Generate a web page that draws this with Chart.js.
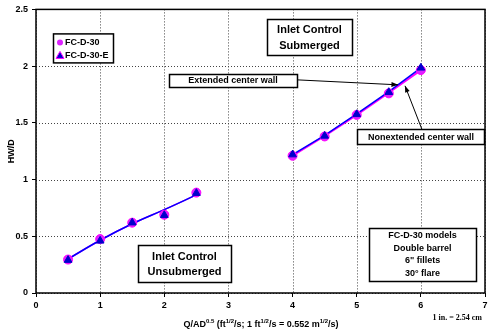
<!DOCTYPE html>
<html>
<head>
<meta charset="utf-8">
<script src="https://cdn.jsdelivr.net/npm/chart.js@4.4.1/dist/chart.umd.min.js"></script>
<style>
  html, body { margin: 0; padding: 0; background: #fff; }
  canvas { display: block; }
</style>
</head>
<body>
<canvas id="myChart" width="495" height="333"></canvas>
<script>
'use strict';

// Q/AD^0.5 values
var lowX = [0.5, 1, 1.5, 2, 2.5];
var highX = [4, 4.5, 5, 5.5, 6];

// HW/D measured
var d30Low = [0.295, 0.475, 0.62, 0.69, 0.885];
var d30High = [1.21, 1.38, 1.57, 1.76, 1.965];
var d30eLow = [0.29, 0.46, 0.62, 0.685, 0.88];
var d30eHigh = [1.22, 1.385, 1.575, 1.77, 1.985];

// fitted curves
var fitLow = [0.30, 0.465, 0.61, 0.735, 0.865];
var fitHighD30 = [1.21, 1.385, 1.57, 1.765, 1.965];
var fitHighE = [1.22, 1.39, 1.58, 1.775, 1.985];

var xTicks = [0, 1, 2, 3, 4, 5, 6, 7];
var yTicks = [0, 0.5, 1, 1.5, 2, 2.5];

var seriesNames = ['FC-D-30', 'FC-D-30-E'];

var MAGENTA = '#ff00ff';
var VIOLET = '#dd22ff';
var BLUE = '#0000ff';
var FONT = 'Arial, "Liberation Sans", sans-serif';

function pts(xs, ys){
    var out = [];
    for (var i = 0; i < xs.length; i++){
        out.push({x: xs[i], y: ys[i]});
    }
    return out;
}

// text boxes: center in data units, size in px
var notes = [
    {x: 4.264, y: 2.255, w: 85, h: 36, lines: ['Inlet Control', 'Submerged'], size: 11, gap: 16},
    {x: 3.071, y: 1.874, w: 128, h: 13, lines: ['Extended center wall'], size: 9, gap: 0},
    {x: 6.002, y: 1.376, w: 127, h: 15, lines: ['Nonextended center wall'], size: 9, gap: 0},
    {x: 2.315, y: 0.256, w: 93, h: 37, lines: ['Inlet Control', 'Unsubmerged'], size: 11, gap: 15},
    {x: 6.026, y: 0.343, w: 107, h: 53, lines: ['FC-D-30 models', 'Double barrel', '6" fillets', '30\u00b0 flare'], size: 9, gap: 12.5}
];

var arrows = [
    {x1: 4.069, y1: 1.879, x2: 5.644, y2: 1.835},
    {x1: 6.018, y1: 1.441, x2: 5.753, y2: 1.826}
];

var framePlugin = {
    id: 'frame',
    beforeDatasetsDraw: function(chart){
        // dotted grid
        var ctx = chart.ctx;
        var a = chart.chartArea;
        var xs = chart.scales.x;
        var ys = chart.scales.y;
        ctx.save();
        ctx.strokeStyle = '#444';
        ctx.lineWidth = 1;
        ctx.setLineDash([1, 2]);
        xTicks.forEach(function(v){
            var px = Math.round(xs.getPixelForValue(v)) + 0.5;
            ctx.beginPath();
            ctx.moveTo(px, a.top);
            ctx.lineTo(px, a.bottom);
            ctx.stroke();
        });
        yTicks.forEach(function(v){
            var py = Math.round(ys.getPixelForValue(v)) + 0.5;
            ctx.beginPath();
            ctx.moveTo(a.left, py);
            ctx.lineTo(a.right, py);
            ctx.stroke();
        });
        ctx.restore();
    },
    afterDatasetsDraw: function(chart){
        var ctx = chart.ctx;
        var a = chart.chartArea;
        var xs = chart.scales.x;
        var ys = chart.scales.y;
        ctx.save();

        // plot frame
        ctx.strokeStyle = '#000';
        ctx.lineWidth = 1.5;
        ctx.strokeRect(a.left, a.top, a.right - a.left, a.bottom - a.top);

        // arrows
        ctx.lineWidth = 1;
        arrows.forEach(function(ar){
            var x1 = xs.getPixelForValue(ar.x1), y1 = ys.getPixelForValue(ar.y1);
            var x2 = xs.getPixelForValue(ar.x2), y2 = ys.getPixelForValue(ar.y2);
            var ang = Math.atan2(y2 - y1, x2 - x1);
            ctx.beginPath();
            ctx.moveTo(x1, y1);
            ctx.lineTo(x2, y2);
            ctx.stroke();
            ctx.beginPath();
            ctx.moveTo(x2, y2);
            ctx.lineTo(x2 - 7 * Math.cos(ang - 0.35), y2 - 7 * Math.sin(ang - 0.35));
            ctx.lineTo(x2 - 7 * Math.cos(ang + 0.35), y2 - 7 * Math.sin(ang + 0.35));
            ctx.closePath();
            ctx.fillStyle = '#000';
            ctx.fill();
        });

        // note boxes
        notes.forEach(function(n){
            var cx = xs.getPixelForValue(n.x);
            var cy = ys.getPixelForValue(n.y);
            var l = Math.round(cx - n.w / 2) + 0.5;
            var t = Math.round(cy - n.h / 2) + 0.5;
            ctx.fillStyle = '#fff';
            ctx.fillRect(l, t, n.w, n.h);
            ctx.strokeStyle = '#000';
            ctx.lineWidth = 1.5;
            ctx.strokeRect(l, t, n.w, n.h);
            ctx.fillStyle = '#000';
            ctx.font = 'bold ' + n.size + 'px ' + FONT;
            ctx.textAlign = 'center';
            ctx.textBaseline = 'middle';
            var y0 = cy - (n.lines.length - 1) * n.gap / 2;
            n.lines.forEach(function(s, i){
                ctx.fillText(s, cx, y0 + i * n.gap + 0.5);
            });
        });

        // legend box
        var lx = a.left + 17, ly = a.top + 24;
        ctx.fillStyle = '#fff';
        ctx.fillRect(lx + 0.5, ly + 0.5, 60, 29);
        ctx.lineWidth = 1.5;
        ctx.strokeRect(lx + 0.5, ly + 0.5, 60, 29);
        ctx.beginPath();
        ctx.arc(lx + 7, ly + 9, 3, 0, Math.PI * 2);
        ctx.fillStyle = VIOLET;
        ctx.fill();
        ctx.beginPath();
        ctx.moveTo(lx + 7, ly + 18);
        ctx.lineTo(lx + 11, ly + 25);
        ctx.lineTo(lx + 3, ly + 25);
        ctx.closePath();
        ctx.fillStyle = '#0000cc';
        ctx.fill();
        ctx.strokeStyle = MAGENTA;
        ctx.lineWidth = 1;
        ctx.stroke();
        ctx.fillStyle = '#000';
        ctx.font = 'bold 9px ' + FONT;
        ctx.textAlign = 'left';
        ctx.textBaseline = 'middle';
        ctx.fillText(seriesNames[0], lx + 12, ly + 9.5);
        ctx.fillText(seriesNames[1], lx + 12, ly + 22.5);

        ctx.restore();
    },
    afterDraw: function(chart){
        var ctx = chart.ctx;
        var a = chart.chartArea;
        ctx.save();
        ctx.fillStyle = '#000';

        // y title
        ctx.font = 'bold 9px ' + FONT;
        ctx.translate(12, (a.top + a.bottom) / 2);
        ctx.rotate(-Math.PI / 2);
        ctx.textAlign = 'center';
        ctx.textBaseline = 'middle';
        ctx.fillText('HW/D', 0, 0);
        ctx.setTransform(1, 0, 0, 1, 0, 0);

        // x title with superscripts
        var parts = [
            ['Q/AD', 0], ['0.5', 1], [' (ft', 0], ['1/2', 1], ['/s; 1 ft', 0],
            ['1/2', 1], ['/s = 0.552 m', 0], ['1/2', 1], ['/s)', 0]
        ];
        var total = 0;
        parts.forEach(function(p){
            ctx.font = (p[1] ? 'bold 6px ' : 'bold 9px ') + FONT;
            total += ctx.measureText(p[0]).width;
        });
        var x = 261 - total / 2;
        ctx.textAlign = 'left';
        ctx.textBaseline = 'alphabetic';
        parts.forEach(function(p){
            ctx.font = (p[1] ? 'bold 6px ' : 'bold 9px ') + FONT;
            ctx.fillText(p[0], x, p[1] ? 323 : 327);
            x += ctx.measureText(p[0]).width;
        });

        ctx.font = 'bold 8px "Liberation Serif", "Times New Roman", serif';
        ctx.textAlign = 'right';
        ctx.fillText('1 in. = 2.54 cm', 482, 320);
        ctx.restore();
    }
};

var ctx = document.getElementById('myChart').getContext('2d');
var chart = new Chart(ctx, {
    type: 'scatter',
    data: {
        datasets: [
            {
                label: seriesNames[1],
                data: pts(lowX, d30eLow).concat(pts(highX, d30eHigh)),
                pointStyle: 'triangle',
                pointRadius: 4.5,
                backgroundColor: '#0000cc',
                borderColor: '#0000cc',
                borderWidth: 1,
                order: 1
            },
            {
                label: seriesNames[0],
                data: pts(lowX, d30Low).concat(pts(highX, d30High)),
                pointStyle: 'circle',
                pointRadius: 4.5,
                backgroundColor: VIOLET,
                borderColor: MAGENTA,
                borderWidth: 1,
                order: 2
            },
            {
                label: 'fit E high',
                data: pts(highX, fitHighE),
                showLine: true,
                pointRadius: 0,
                borderColor: BLUE,
                borderWidth: 1.5,
                order: 3
            },
            {
                label: 'fit low',
                data: pts(lowX, fitLow),
                showLine: true,
                tension: 0.4,
                pointRadius: 0,
                borderColor: BLUE,
                borderWidth: 1.5,
                order: 3
            },
            {
                label: 'fit high',
                data: pts(highX, fitHighD30),
                showLine: true,
                pointRadius: 0,
                borderColor: MAGENTA,
                borderWidth: 2,
                order: 4
            },
            {
                label: 'fit low 2',
                data: pts(lowX, fitLow),
                showLine: true,
                tension: 0.4,
                pointRadius: 0,
                borderColor: MAGENTA,
                borderWidth: 1.5,
                order: 4
            }
        ]
    },
    plugins: [framePlugin],
    options: {
        responsive: false,
        animation: false,
        devicePixelRatio: 1,
        layout: { padding: { top: 8, right: 10, left: 0, bottom: 0 } },
        plugins: {
            legend: { display: false },
            tooltip: { enabled: false }
        },
        scales: {
            x: {
                type: 'linear',
                min: 0,
                max: 7,
                afterFit: function(s){ s.height = 40; },
                afterBuildTicks: function(s){ s.ticks = xTicks.map(function(v){ return {value: v}; }); },
                ticks: {
                    color: '#000',
                    padding: 3,
                    font: { family: FONT, size: 9, weight: 'bold' },
                    callback: function(v){ return String(v); }
                },
                grid: {
                    drawOnChartArea: false,
                    tickLength: 4,
                    tickColor: '#000'
                },
                border: { display: false }
            },
            y: {
                type: 'linear',
                min: 0,
                max: 2.5,
                afterFit: function(s){ s.width = 36; },
                afterBuildTicks: function(s){ s.ticks = yTicks.map(function(v){ return {value: v}; }); },
                ticks: {
                    color: '#000',
                    padding: 4,
                    font: { family: FONT, size: 9, weight: 'bold' },
                    callback: function(v){ return String(v); }
                },
                grid: {
                    drawOnChartArea: false,
                    tickLength: 4,
                    tickColor: '#000'
                },
                border: { display: false }
            }
        }
    }
});
</script>
</body>
</html>
